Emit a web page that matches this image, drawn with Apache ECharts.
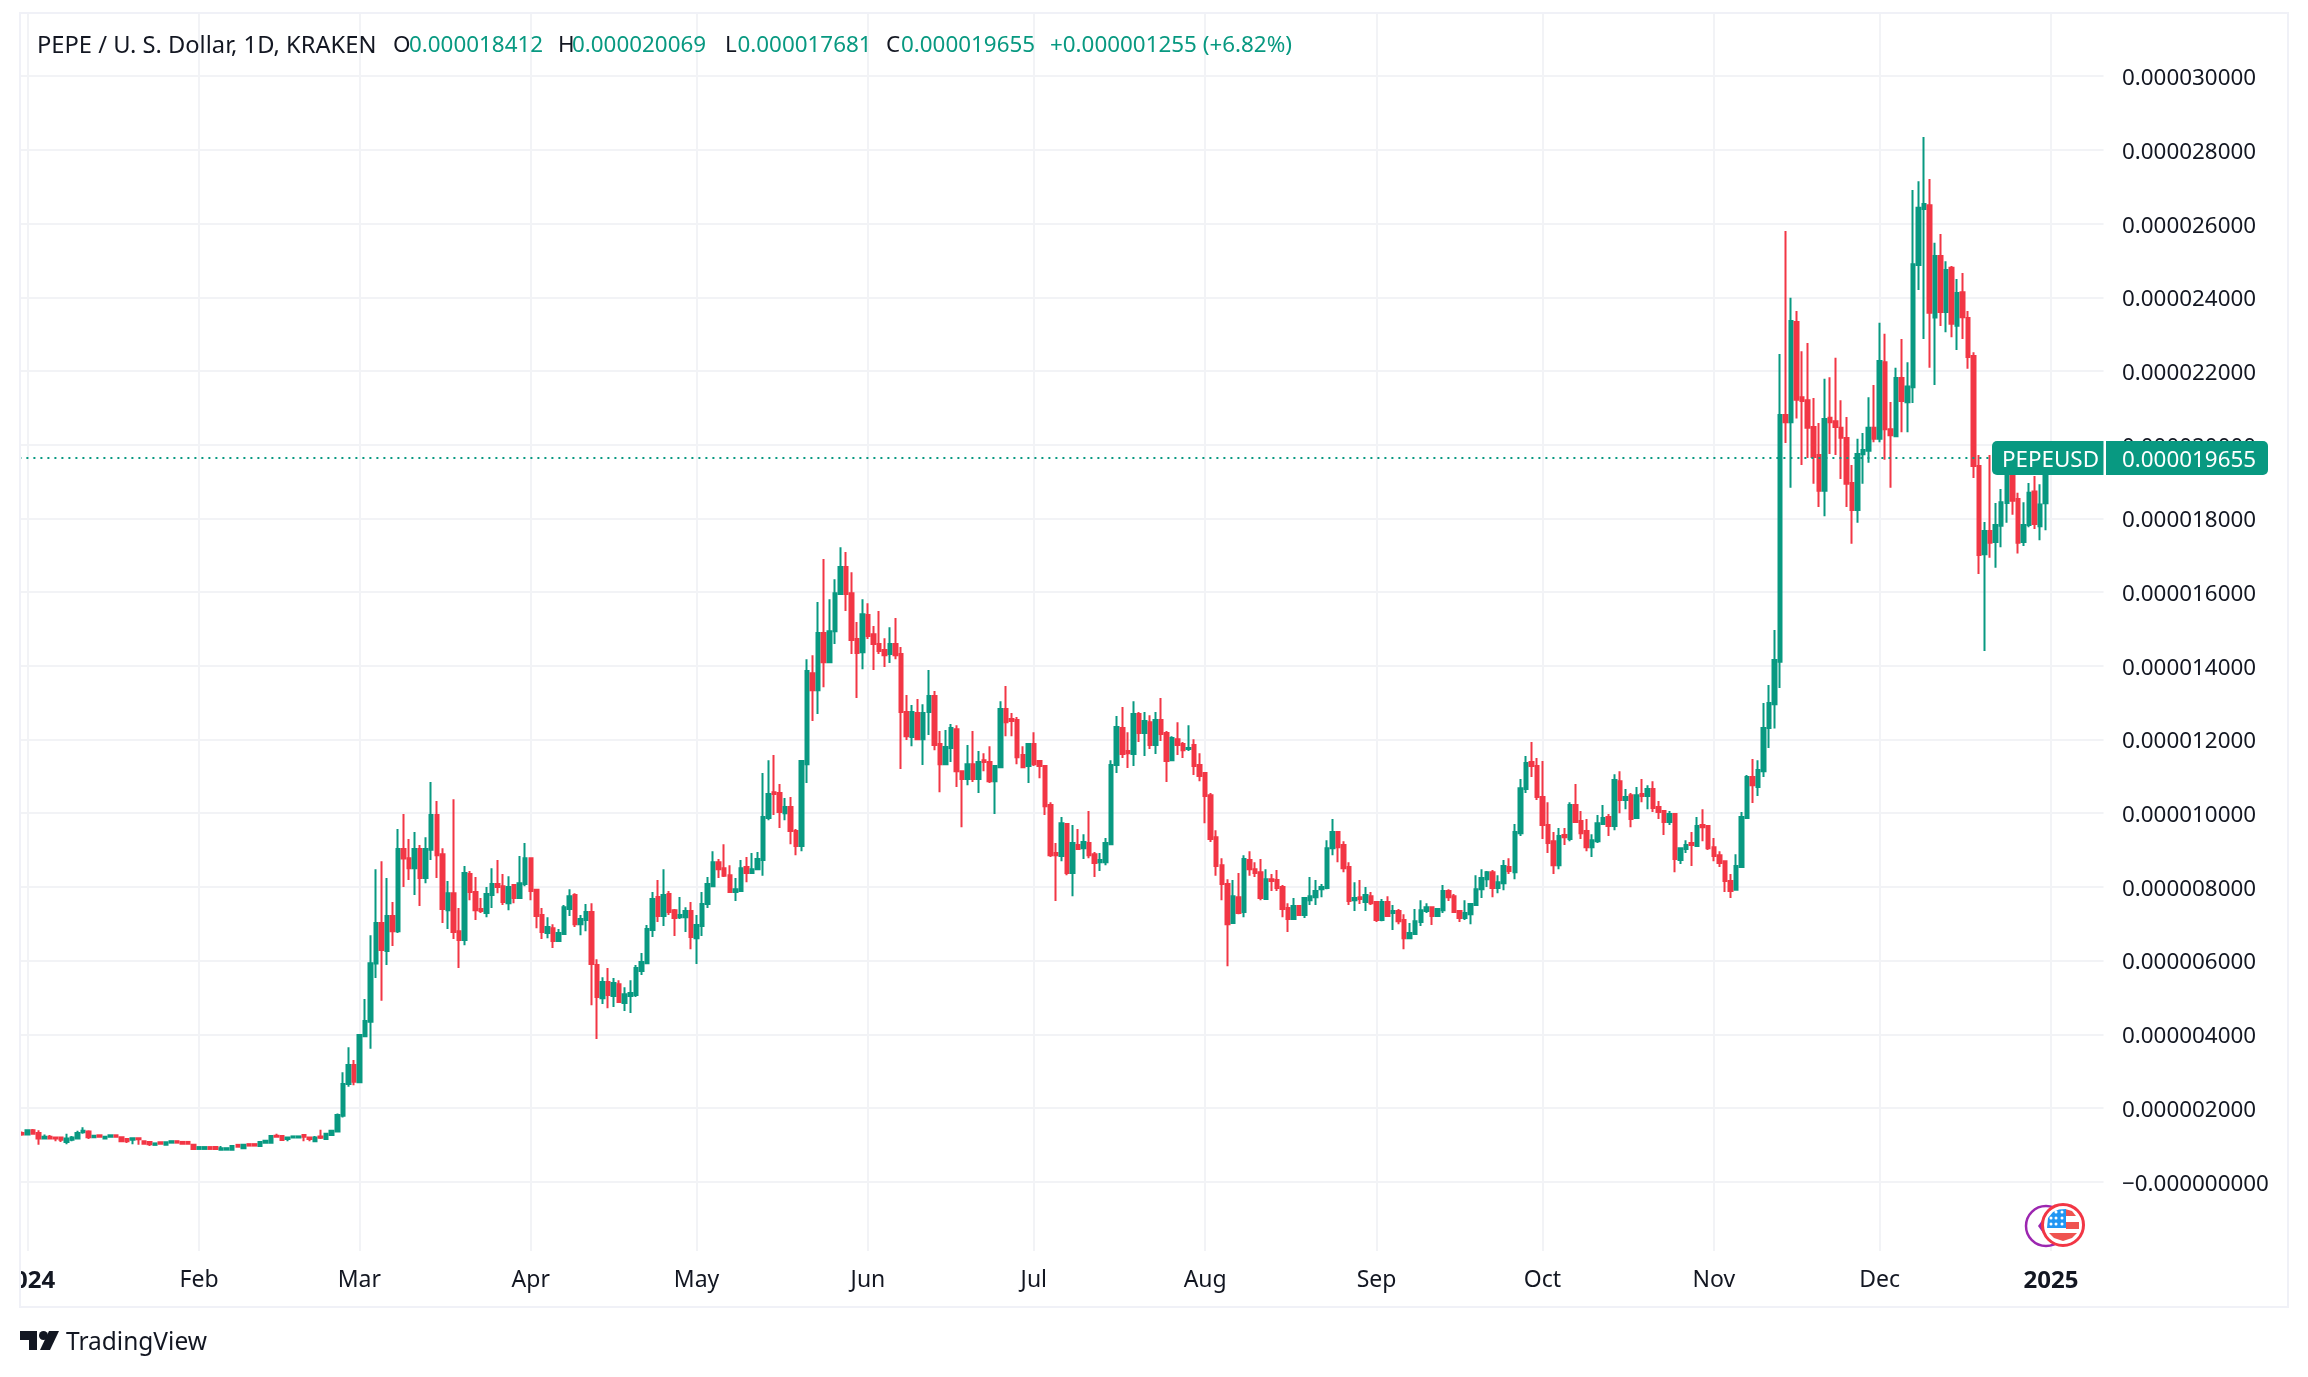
<!DOCTYPE html>
<html>
<head>
<meta charset="utf-8">
<style>html,body{margin:0;padding:0;background:#fff}#c{width:2308px;height:1377px}</style>
<script src="https://cdn.jsdelivr.net/npm/echarts@6/dist/echarts.min.js"></script>
</head>
<body>
<div id="c"></div>
<script>
// Daily candles, [open, high, low, close], in millionths of a US dollar.
const dec23 = [[1.32,1.36,1.25,1.28]];
const jan24 = [[1.28,1.40,1.28,1.40],[1.40,1.43,1.30,1.30],[1.32,1.40,1.00,1.17],[1.17,1.28,1.17,1.22],[1.22,1.27,1.17,1.17],[1.20,1.20,1.10,1.17],[1.20,1.22,1.08,1.14],[1.08,1.30,1.02,1.17],[1.14,1.24,1.10,1.20],[1.17,1.38,1.17,1.32],[1.34,1.48,1.30,1.38],[1.36,1.40,1.16,1.21],[1.21,1.27,1.19,1.25],[1.26,1.26,1.22,1.22],[1.17,1.25,1.16,1.22],[1.22,1.26,1.22,1.26],[1.26,1.26,1.22,1.22],[1.21,1.21,1.10,1.10],[1.16,1.16,1.05,1.10],[1.14,1.18,1.02,1.18],[1.18,1.18,1.00,1.15],[1.10,1.10,1.03,1.03],[1.08,1.08,0.97,1.02],[1.00,1.04,1.00,1.04],[1.07,1.07,1.00,1.03],[1.00,1.07,1.00,1.07],[1.06,1.10,1.06,1.10],[1.10,1.10,1.06,1.06],[1.08,1.08,1.03,1.03],[1.08,1.08,1.03,1.03],[1.00,1.00,0.89,0.89]];
const feb24 = [[0.89,0.94,0.89,0.94],[0.89,0.94,0.89,0.94],[0.94,0.94,0.89,0.89],[0.94,0.94,0.86,0.89],[0.87,0.97,0.87,0.91],[0.87,0.91,0.87,0.91],[0.87,0.97,0.87,0.97],[1.00,1.00,0.95,0.95],[0.91,1.02,0.91,1.00],[1.02,1.02,0.98,0.98],[1.02,1.02,0.98,0.98],[0.97,1.08,0.97,1.08],[1.06,1.14,1.06,1.11],[1.06,1.24,1.06,1.24],[1.25,1.30,1.20,1.22],[1.24,1.24,1.13,1.13],[1.16,1.20,1.10,1.20],[1.20,1.23,1.20,1.23],[1.20,1.23,1.20,1.23],[1.27,1.27,1.10,1.22],[1.20,1.20,1.10,1.16],[1.10,1.24,1.10,1.20],[1.23,1.41,1.16,1.19],[1.16,1.32,1.13,1.30],[1.27,1.38,1.27,1.38],[1.36,1.85,1.36,1.81],[1.79,2.97,1.74,2.65],[2.65,3.65,2.58,3.17],[3.17,3.30,2.62,2.71]];
const mar24 = [[2.70,3.98,2.69,3.98],[3.95,4.96,3.93,4.36],[4.34,6.69,3.61,5.93],[5.92,8.48,5.53,7.02],[7.02,8.70,4.91,6.29],[6.26,8.24,5.88,7.21],[7.21,7.59,6.40,6.80],[6.80,9.57,6.75,9.03],[9.03,9.98,8.00,8.77],[8.78,9.30,8.19,8.51],[8.51,9.49,7.78,9.03],[9.03,9.14,7.48,8.24],[8.24,9.35,8.10,9.03],[9.01,10.85,8.73,9.95],[9.95,10.33,8.24,8.86],[8.89,9.05,7.02,7.40],[7.37,8.16,6.86,7.83],[7.83,10.38,6.59,6.78],[6.80,7.43,5.80,6.56],[6.56,8.57,6.42,8.38],[8.35,8.43,7.64,7.86],[7.86,8.27,7.10,7.37],[7.40,7.70,7.29,7.35],[7.29,8.00,7.18,7.81],[7.78,8.51,7.43,8.08],[8.08,8.73,7.83,8.00],[8.02,8.35,7.51,7.59],[7.56,8.29,7.37,8.00],[8.05,8.05,7.56,7.70],[7.70,8.84,7.70,8.10],[8.08,9.19,8.02,8.78]];
const apr24 = [[8.78,8.78,7.64,7.89],[7.92,7.94,6.88,7.21],[7.24,7.43,6.59,6.78],[6.75,7.18,6.61,6.91],[6.88,6.99,6.34,6.53],[6.53,6.86,6.53,6.75],[6.72,7.51,6.72,7.45],[7.40,7.94,7.21,7.75],[7.78,7.83,6.91,6.99],[6.99,7.24,6.69,7.13],[7.10,7.54,6.80,7.32],[7.32,7.56,4.79,5.91],[5.88,6.04,3.87,5.01],[4.98,5.55,4.82,5.42],[5.42,5.80,4.71,5.07],[5.04,5.53,4.74,5.39],[5.36,5.47,4.85,4.88],[4.85,5.28,4.63,5.09],[5.04,5.47,4.58,5.12],[5.07,5.88,5.01,5.80],[5.72,6.21,5.61,5.96],[5.93,6.97,5.93,6.86],[6.83,7.86,6.64,7.67],[7.73,8.19,7.05,7.21],[7.21,8.48,6.94,7.78],[7.81,7.89,7.24,7.32],[7.37,7.40,6.67,7.16],[7.18,7.73,7.13,7.24],[7.18,7.45,6.78,7.35],[7.35,7.59,6.31,6.64]];
const may24 = [[6.61,7.24,5.91,6.97],[6.94,7.86,6.67,7.54],[7.54,8.27,7.43,8.08],[8.02,8.97,8.02,8.67],[8.67,8.76,8.24,8.48],[8.51,9.16,8.27,8.30],[8.32,8.59,7.86,7.86],[7.86,8.24,7.62,7.94],[7.89,8.73,7.89,8.51],[8.54,8.81,8.13,8.38],[8.38,8.92,8.38,8.48],[8.48,8.95,8.48,8.76],[8.73,11.09,8.30,9.90],[9.87,11.44,9.81,10.52],[10.57,11.58,9.95,10.52],[10.55,10.79,9.60,10.03],[10.00,10.41,9.81,10.17],[10.17,10.44,9.16,9.52],[9.52,9.57,8.86,9.11],[9.11,11.44,8.97,11.42],[11.33,14.18,10.82,13.86],[13.80,14.29,12.50,13.34],[13.34,15.73,12.69,14.89],[14.89,16.90,13.42,14.10],[14.10,15.81,14.10,14.94],[14.94,16.35,14.59,15.97],[15.95,17.22,15.95,16.68],[16.68,17.09,15.49,15.95],[15.97,16.54,14.32,14.70],[14.73,15.19,13.13,14.35],[14.37,15.81,13.91,15.40]];
const jun24 = [[15.38,15.70,14.73,14.81],[14.86,15.08,13.89,14.59],[14.59,15.49,14.32,14.40],[14.43,14.75,13.97,14.29],[14.32,15.05,14.08,14.59],[14.59,15.30,14.18,14.29],[14.32,14.51,11.20,12.75],[12.75,13.21,11.99,12.09],[12.07,12.94,11.82,12.75],[12.72,13.10,12.01,12.01],[12.01,12.96,11.31,12.72],[12.75,13.89,12.12,13.18],[13.18,13.32,11.71,11.85],[11.88,12.23,10.57,11.33],[11.33,12.26,11.33,11.80],[11.77,12.42,11.39,12.31],[12.28,12.39,10.71,11.14],[11.14,11.14,9.62,10.93],[10.93,11.85,10.76,11.33],[11.33,12.23,10.85,10.93],[10.93,11.69,10.55,11.39],[11.44,11.63,11.14,11.39],[11.39,11.82,10.82,10.87],[10.87,11.31,9.98,11.28],[11.25,13.04,11.25,12.83],[12.83,13.45,12.09,12.47],[12.56,12.72,12.09,12.50],[12.53,12.61,11.33,11.52],[11.58,11.82,11.25,11.25],[11.28,11.88,10.82,11.88]];
const jul24 = [[11.88,12.20,11.28,11.33],[11.42,11.42,10.95,11.28],[11.28,11.31,9.95,10.19],[10.22,10.30,8.81,8.86],[8.92,9.19,7.62,8.86],[8.84,9.90,8.70,9.73],[9.71,9.71,8.32,8.38],[8.38,9.68,7.75,9.19],[9.14,9.57,9.03,9.03],[9.05,9.43,8.76,9.22],[9.19,10.06,8.78,8.86],[8.89,8.95,8.27,8.65],[8.67,8.92,8.43,8.73],[8.67,9.33,8.59,9.19],[9.16,11.44,9.14,11.31],[11.31,12.64,11.09,12.34],[12.31,12.88,11.50,11.61],[11.69,12.20,11.23,11.63],[11.61,13.04,11.28,12.69],[12.69,12.75,11.93,12.18],[12.18,12.75,11.55,12.50],[12.47,12.66,11.74,11.85],[11.85,12.75,11.61,12.53],[12.53,13.13,11.96,12.15],[12.18,12.23,10.85,11.42],[11.44,12.09,11.44,12.04],[12.01,12.47,11.58,11.85],[11.88,11.93,11.50,11.71],[11.74,12.39,11.69,11.77],[11.85,12.01,11.04,11.28],[11.31,11.63,10.87,11.01]];
const aug24 = [[11.09,11.12,9.73,10.47],[10.49,10.55,9.22,9.30],[9.35,9.54,8.30,8.57],[8.59,8.78,7.64,8.08],[8.08,8.21,5.85,6.99],[7.02,8.19,7.02,7.75],[7.72,8.38,7.26,7.29],[7.32,8.86,7.18,8.76],[8.73,8.97,8.30,8.48],[8.48,8.67,8.27,8.38],[8.40,8.76,7.64,7.70],[7.67,8.48,7.67,8.21],[8.21,8.35,7.89,8.16],[8.19,8.46,7.89,7.97],[8.00,8.05,7.18,7.40],[7.43,7.56,6.78,7.13],[7.13,7.70,7.10,7.48],[7.48,7.48,7.24,7.24],[7.24,7.70,7.16,7.70],[7.64,8.27,7.51,7.75],[7.72,8.19,7.51,7.89],[7.94,8.08,7.72,8.00],[7.97,9.27,7.94,9.05],[9.05,9.84,8.86,9.49],[9.49,9.52,8.67,9.08],[9.14,9.24,8.40,8.51],[8.54,8.67,7.51,7.62],[7.64,8.13,7.35,7.70],[7.72,8.19,7.54,7.67],[7.59,8.00,7.35,7.78],[7.75,7.86,7.51,7.56]];
const sep24 = [[7.59,7.62,7.05,7.10],[7.10,7.67,7.07,7.59],[7.59,7.75,7.21,7.21],[7.29,7.51,6.83,7.35],[7.35,7.40,6.99,7.07],[7.10,7.26,6.31,6.61],[6.61,7.02,6.61,6.75],[6.72,7.40,6.72,7.07],[7.05,7.64,6.94,7.37],[7.35,7.56,7.29,7.45],[7.45,7.45,6.97,7.21],[7.21,7.40,7.21,7.40],[7.37,8.05,7.29,7.89],[7.89,7.94,7.62,7.72],[7.75,7.81,7.29,7.32],[7.35,7.37,7.05,7.16],[7.16,7.64,7.10,7.29],[7.26,7.54,6.99,7.54],[7.51,8.32,7.51,7.94],[7.94,8.48,7.70,8.24],[8.21,8.43,8.00,8.40],[8.40,8.46,7.72,7.97],[7.97,8.32,7.83,8.13],[8.10,8.73,7.91,8.57],[8.54,8.78,8.35,8.43],[8.40,9.71,8.21,9.49],[9.46,10.93,9.38,10.68],[10.66,11.55,10.55,11.36],[11.39,11.93,10.98,11.28],[11.28,11.50,10.36,10.44]];
const oct24 = [[10.44,11.42,9.30,9.68],[9.68,10.30,8.92,9.19],[9.24,9.49,8.35,8.59],[8.59,9.60,8.48,9.38],[9.41,9.60,9.14,9.35],[9.30,10.30,9.24,10.22],[10.22,10.79,9.76,9.76],[9.79,10.06,9.30,9.46],[9.52,9.84,8.97,9.08],[9.08,9.43,8.81,9.27],[9.24,9.95,9.19,9.73],[9.71,10.22,9.68,9.87],[9.90,9.98,9.38,9.65],[9.65,11.06,9.54,10.90],[10.87,11.14,10.00,10.36],[10.36,10.66,10.11,10.44],[10.49,10.55,9.62,9.84],[9.87,10.71,9.84,10.49],[10.52,10.93,10.30,10.47],[10.47,10.76,10.11,10.66],[10.66,10.87,10.03,10.14],[10.17,10.33,9.84,10.03],[10.06,10.06,9.41,9.76],[9.76,10.06,9.68,9.98],[9.98,10.00,8.40,8.76],[8.73,9.08,8.62,9.05],[9.03,9.27,8.92,9.14],[9.19,9.49,8.57,9.14],[9.11,9.90,9.11,9.65],[9.68,10.11,9.24,9.62],[9.65,9.68,9.00,9.05]];
const nov24 = [[9.08,9.33,8.70,8.84],[8.86,8.97,8.54,8.65],[8.70,8.70,7.86,8.16],[8.16,8.35,7.70,7.89],[7.92,8.89,7.92,8.57],[8.54,10.03,8.54,9.90],[9.87,11.04,9.84,10.98],[10.98,11.47,10.28,10.76],[10.71,11.44,10.47,11.17],[11.14,12.99,10.98,12.31],[12.31,13.48,11.77,12.99],[12.96,14.97,12.30,14.16],[14.11,22.46,13.40,20.81],[20.81,25.80,20.05,20.61],[20.61,23.99,18.83,23.36],[23.33,23.63,20.71,21.22],[21.29,22.54,19.45,21.19],[21.21,22.76,19.64,20.46],[20.48,21.27,18.94,19.67],[19.72,20.59,18.31,18.75],[18.75,21.79,18.06,20.70],[20.73,21.83,19.75,20.61],[20.64,22.36,19.72,20.48],[20.46,21.21,19.07,20.19],[20.18,20.75,18.31,18.94],[18.96,19.45,17.31,18.23],[18.23,20.16,17.88,19.75],[19.74,20.32,18.94,19.86],[19.84,21.29,19.51,20.46],[20.46,21.62,20.07,20.16]];
const dec24 = [[20.16,23.31,20.07,22.27],[22.24,23.01,19.59,20.42],[20.42,21.16,18.83,20.26],[20.23,22.09,20.20,21.81],[21.81,22.87,20.34,21.19],[21.15,22.24,20.34,21.58],[21.56,26.91,21.13,24.90],[24.88,27.15,24.20,26.43],[26.40,28.35,22.87,26.53],[26.50,27.21,22.09,23.58],[23.45,25.48,21.62,25.12],[25.12,25.72,23.22,23.60],[23.60,24.98,23.05,24.74],[24.80,24.85,22.92,23.28],[23.23,24.50,22.57,24.12],[24.14,24.66,22.87,23.46],[23.44,23.63,22.06,22.38],[22.41,22.51,19.10,19.42],[19.42,19.72,16.49,17.01],[17.03,17.90,14.40,17.66],[17.66,19.72,16.93,17.34],[17.36,18.42,16.66,17.82],[17.80,18.80,17.22,18.44],[18.42,20.00,17.88,19.60],[19.60,20.00,18.10,18.48],[18.53,18.70,17.05,17.34],[17.36,18.44,17.25,17.82],[17.82,18.96,17.76,18.70],[18.73,19.15,17.71,17.85],[17.79,18.93,17.41,18.38],[18.412,20.069,17.681,19.655]];

const tickDates  = ['2024-01-01','2024-02-01','2024-03-01','2024-04-01','2024-05-01','2024-06-01','2024-07-01','2024-08-01','2024-09-01','2024-10-01','2024-11-01','2024-12-01','2025-01-01'];
const tickLabels = ['2024','Feb','Mar','Apr','May','Jun','Jul','Aug','Sep','Oct','Nov','Dec','2025'];
const priceTicks = [0,2,4,6,8,10,12,14,16,18,20,22,24,26,28,30];
const headerName = 'PEPE / U. S. Dollar, 1D, KRAKEN';
const symbolTag = 'PEPEUSD';
const changeText = '+0.000001255 (+6.82%)';

const FONT = '"Noto Sans", sans-serif';
const UP = '#089981', DOWN = '#F23645', INK = '#131722', GRID = '#F2F3F6', FRAME = '#F0F1F7';
const FS = 22.4;

const candles = [].concat(dec23,jan24,feb24,mar24,apr24,may24,jun24,jul24,aug24,sep24,oct24,nov24,dec24);
const last = candles[candles.length-1];
const fmt = v => (v*1e-6).toFixed(9);

// one band per day, from the last day of 2023 to the right edge of the pane
const days = [];
for (let t = Date.UTC(2023,11,31), n = 0; n < 377; n++, t += 864e5) days.push(new Date(t).toISOString().slice(0,10));
const isTick = (i, d) => tickDates.indexOf(d) >= 0;

const chart = echarts.init(document.getElementById('c'), null, {renderer:'canvas', width:2308, height:1377});
chart.setOption({
  animation:false,
  backgroundColor:'#fff',
  textStyle:{fontFamily:FONT},
  grid:{left:19.4, right:2308-2103.5, top:13, bottom:1377-1251, containLabel:false, outerBoundsMode:'none'},
  xAxis:{
    type:'category', data:days, boundaryGap:true,
    axisLine:{show:false}, axisTick:{show:false},
    splitLine:{show:true, interval:isTick, alignWithLabel:true, lineStyle:{color:GRID, width:2}},
    axisLabel:{
      interval:isTick, margin:18, color:INK, fontSize:23,
      formatter:d => { const l = tickLabels[tickDates.indexOf(d)]; return /^\d+$/.test(l) ? '{b|'+l+'}' : l; },
      rich:{b:{fontWeight:'bold', fontSize:24, color:INK, fontFamily:FONT}}
    }
  },
  yAxis:{
    type:'value', position:'right', min:-1.88, max:31.716, scale:false,
    axisLine:{show:false},
    axisTick:{show:false, customValues:priceTicks},
    splitLine:{show:true, lineStyle:{color:GRID, width:2}},
    axisLabel:{
      customValues:priceTicks, align:'left', verticalAlign:'top', lineHeight:5, margin:18.5, color:INK, fontSize:FS,
      formatter:v => v === 0 ? '\u22120.000000000' : fmt(v)
    }
  },
  series:[{
    type:'candlestick', barWidth:4, large:false, progressive:0,
    data:candles.map(r => [r[0], r[3], r[2], r[1]]),
    itemStyle:{color:UP, color0:DOWN, borderColor:UP, borderColor0:DOWN, borderColorDoji:UP, borderWidth:2},
    markLine:{silent:true, symbol:'none', animation:false, label:{show:false},
      lineStyle:{color:UP, type:[2,5], width:2},
      data:[{yAxis:last[3]}]}
  }]
});

const py = chart.convertToPixel({yAxisIndex:0}, last[3]);
const txt = (x,y,text,fill,size,extra) => ({type:'text', z:50, x, y, style:Object.assign({text, fill, fontSize:size, fontFamily:FONT, textAlign:'left', textVerticalAlign:'middle'}, extra||{})});
const star = (x,y) => ({type:'circle', z:63, shape:{cx:x,cy:y,r:1.5}, style:{fill:'#fff'}});
const hdr = 46;
chart.setOption({graphic:[
  {type:'rect', z:40, shape:{x:0,y:1254,width:19,height:52}, style:{fill:'#fff'}},
  {type:'rect', z:41, shape:{x:20,y:13,width:2268,height:1294}, style:{fill:'none', stroke:FRAME, lineWidth:2}},
  txt(37,hdr,headerName,INK,23.7),
  txt(393,hdr,'O',INK,FS), txt(409,hdr,fmt(last[0]),UP,FS),
  txt(558,hdr,'H',INK,FS), txt(572,hdr,fmt(last[1]),UP,FS),
  txt(725,hdr,'L',INK,FS), txt(737.5,hdr,fmt(last[2]),UP,FS),
  txt(886,hdr,'C',INK,FS), txt(901,hdr,fmt(last[3]),UP,FS),
  txt(1050,hdr,changeText,UP,FS),
  {type:'rect', z:45, shape:{x:1992,y:py-16.5,width:111.5,height:34,r:[5,0,0,5]}, style:{fill:UP}},
  {type:'rect', z:45, shape:{x:2106,y:py-16.5,width:162,height:34,r:[0,5,5,0]}, style:{fill:UP}},
  txt(2002,py+3,symbolTag,'#fff',FS),
  txt(2122,py+3,fmt(last[3]),'#fff',FS),
  // exchange and currency badges
  {type:'circle', z:60, shape:{cx:2046,cy:1226,r:20}, style:{fill:'#fff', stroke:'#9C27B0', lineWidth:2.5}},
  {type:'polygon', z:60, shape:{points:[[2038,1226],[2043,1219],[2043,1233]]}, style:{fill:'#9C27B0'}},
  {type:'circle', z:61, shape:{cx:2063,cy:1225,r:20.5}, style:{fill:'#fff', stroke:'#F23645', lineWidth:3}},
  {type:'polygon', z:62, shape:{points:[[2047,1228],[2048,1218],[2053,1212],[2059,1209.5],[2066,1209],[2066,1228]]}, style:{fill:'#2196F3'}},
  {type:'polygon', z:62, shape:{points:[[2066,1209.3],[2072,1211],[2076,1216],[2066,1216]]}, style:{fill:'#EF5350'}},
  {type:'rect', z:62, shape:{x:2066,y:1222,width:13,height:7}, style:{fill:'#EF5350'}},
  {type:'polygon', z:62, shape:{points:[[2049,1233],[2077,1233],[2072,1238],[2063,1241],[2054,1238]]}, style:{fill:'#EF5350'}},
  star(2056,1212),star(2062,1212),star(2051,1218),star(2056,1218),star(2062,1218),star(2051,1224),star(2056,1224),star(2062,1224),
  // brand mark
  {type:'polygon', z:60, shape:{points:[[20,1331],[37,1331],[37,1350],[29,1350],[29,1340],[20,1340]]}, style:{fill:INK}},
  {type:'circle', z:60, shape:{cx:43.5,cy:1335.5,r:4.5}, style:{fill:INK}},
  {type:'polygon', z:60, shape:{points:[[49,1331],[59,1331],[50,1350],[40,1350]]}, style:{fill:INK}},
  txt(66,1343,'TradingView',INK,24.5)
]});
</script>
</body>
</html>
